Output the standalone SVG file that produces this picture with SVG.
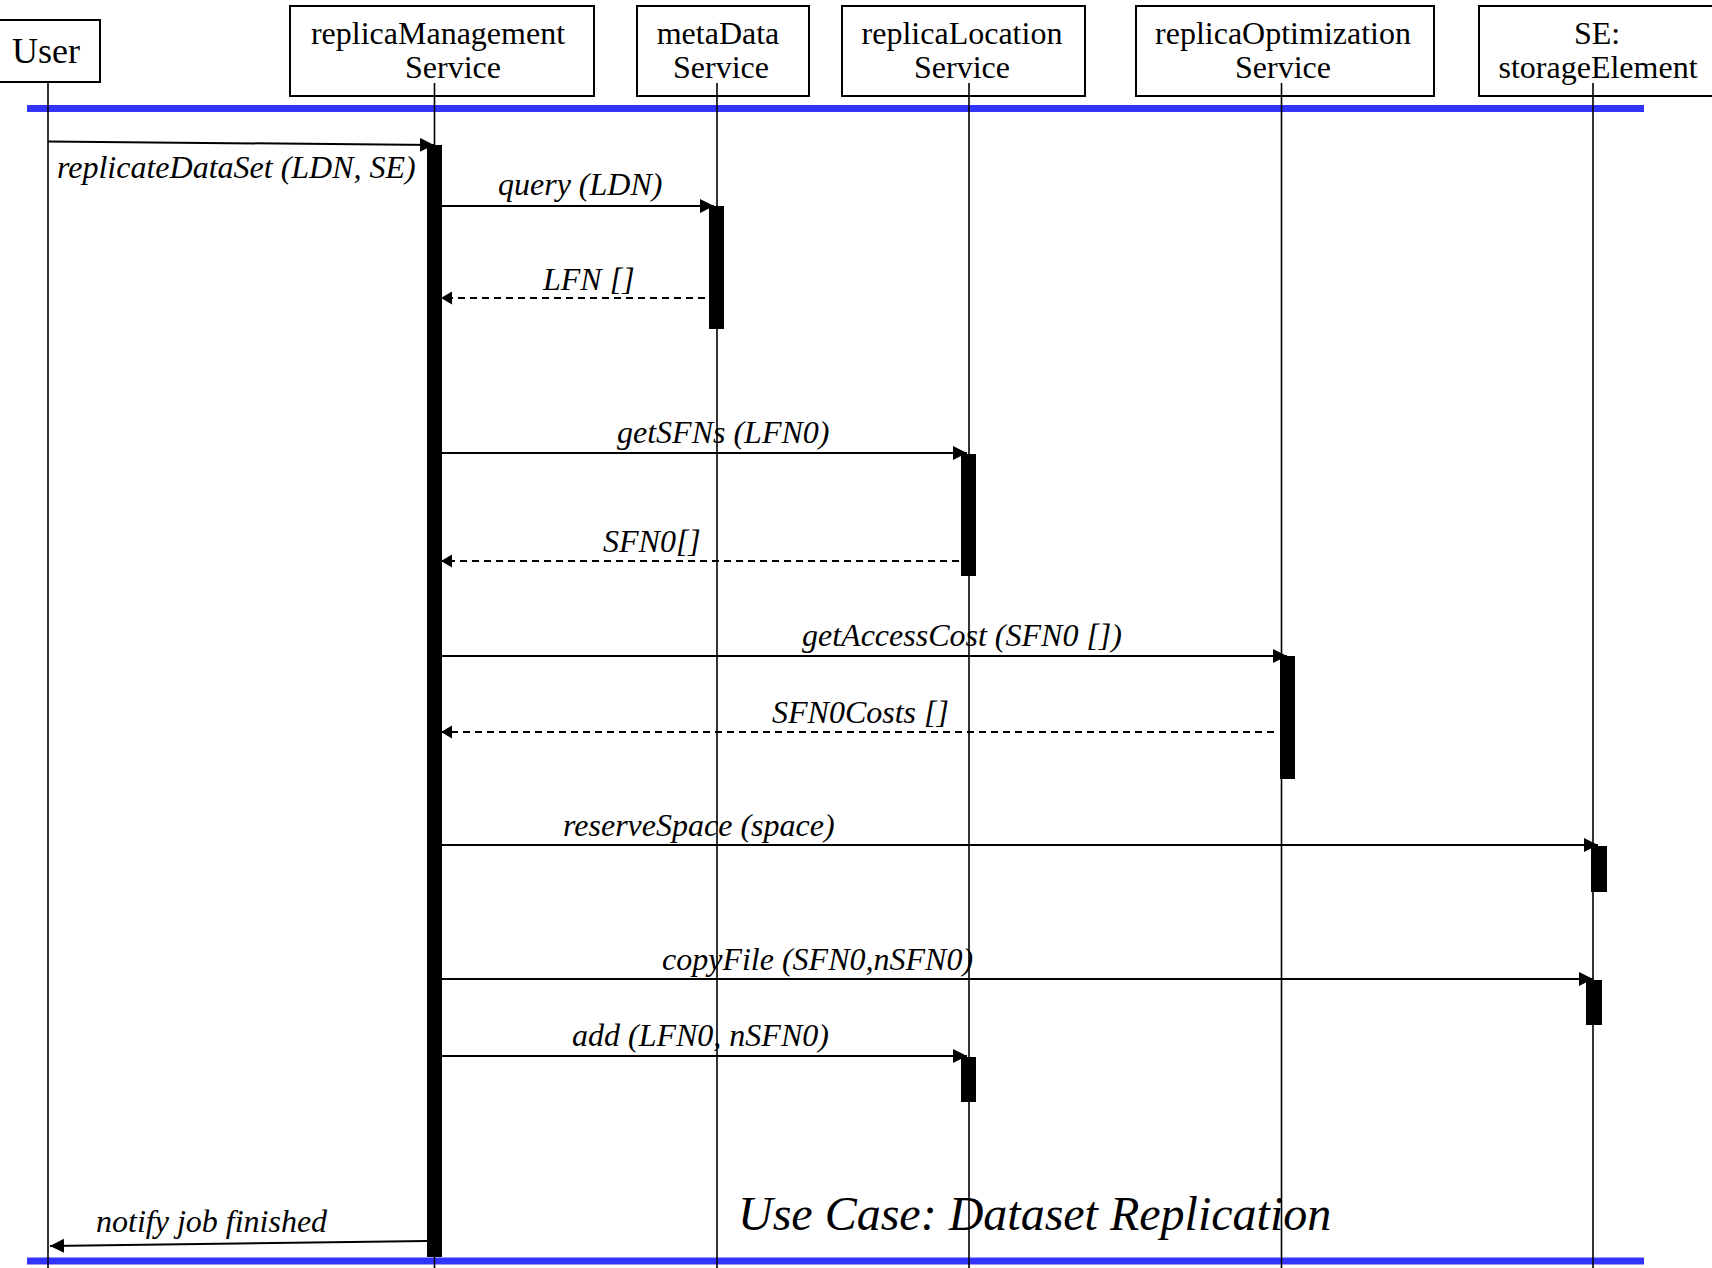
<svg xmlns="http://www.w3.org/2000/svg" width="1712" height="1268" viewBox="0 0 1712 1268">
  <style>
    .box { fill: #ffffff; stroke: #000000; stroke-width: 2; }
    .head { font-family: "Liberation Serif", "Times New Roman", serif; font-size: 32px; fill: #000000; text-anchor: middle; }
    .life { stroke: #000000; stroke-width: 1.6; fill: none; }
    .act { fill: #000000; }
    .sep { stroke: #3434ff; stroke-width: 7; }
    .call { stroke: #000000; stroke-width: 2; fill: none; marker-end: url(#tip); }
    .ret { stroke: #000000; stroke-width: 2; fill: none; stroke-dasharray: 7 5; marker-end: url(#tipSmall); }
    .lbl { font-family: "Liberation Serif", "Times New Roman", serif; font-style: italic; font-size: 32px; fill: #000000; }
    .title { font-family: "Liberation Serif", "Times New Roman", serif; font-style: italic; font-size: 48px; fill: #000000; }
  </style>
  <defs>
    <marker id="tip" markerUnits="userSpaceOnUse" markerWidth="16" markerHeight="16" refX="14" refY="7" orient="auto">
      <path d="M0,0 L14,7 L0,14 Z" fill="#000000"/>
    </marker>
    <marker id="tipSmall" markerUnits="userSpaceOnUse" markerWidth="14" markerHeight="14" refX="11" refY="6.5" orient="auto">
      <path d="M0,0 L11,6.5 L0,13 Z" fill="#000000"/>
    </marker>
  </defs>

  <rect width="1712" height="1268" fill="#ffffff"/>

  <!-- frame separators -->
  <line class="sep" x1="27" y1="108.5" x2="1644" y2="108.5"/>
  <line class="sep" x1="27" y1="1261" x2="1644" y2="1261"/>

  <!-- participants -->
  <g id="user">
    <rect class="box" x="-2" y="20" width="102" height="62"/>
    <text class="head" x="46" y="63" style="font-size:36px">User</text>
    <line class="life" x1="48" y1="82" x2="48" y2="1268"/>
  </g>
  <g id="replicaManagementService">
    <rect class="box" x="290" y="6" width="304" height="90"/>
    <text class="head" x="438" y="44">replicaManagement</text>
    <text class="head" x="453" y="78">Service</text>
    <line class="life" x1="434.5" y1="83" x2="434.5" y2="1268"/>
    <rect class="act" x="427" y="145" width="15" height="1112"/>
  </g>
  <g id="metaDataService">
    <rect class="box" x="637" y="6" width="172" height="90"/>
    <text class="head" x="718" y="44">metaData</text>
    <text class="head" x="721" y="78">Service</text>
    <line class="life" x1="717" y1="83" x2="717" y2="1268"/>
    <rect class="act" x="709" y="206" width="15" height="123"/>
  </g>
  <g id="replicaLocationService">
    <rect class="box" x="842" y="6" width="243" height="90"/>
    <text class="head" x="962" y="44">replicaLocation</text>
    <text class="head" x="962" y="78">Service</text>
    <line class="life" x1="969" y1="83" x2="969" y2="1268"/>
    <rect class="act" x="961" y="454" width="15" height="122"/>
    <rect class="act" x="961" y="1057" width="15" height="45"/>
  </g>
  <g id="replicaOptimizationService">
    <rect class="box" x="1136" y="6" width="298" height="90"/>
    <text class="head" x="1283" y="44">replicaOptimization</text>
    <text class="head" x="1283" y="78">Service</text>
    <line class="life" x1="1281.5" y1="83" x2="1281.5" y2="1268"/>
    <rect class="act" x="1280" y="656" width="15" height="123"/>
  </g>
  <g id="storageElement">
    <rect class="box" x="1479" y="6" width="240" height="90"/>
    <text class="head" x="1597" y="44">SE:</text>
    <text class="head" x="1598" y="78">storageElement</text>
    <line class="life" x1="1593" y1="83" x2="1593" y2="1268"/>
    <rect class="act" x="1591" y="846" width="16" height="46"/>
    <rect class="act" x="1586" y="980" width="16" height="45"/>
  </g>

  <!-- messages -->
  <g id="messages">
    <line class="call" x1="48" y1="141.5" x2="434" y2="145"/>
    <text class="lbl" x="57" y="178">replicateDataSet (LDN, SE)</text>

    <line class="call" x1="442" y1="206" x2="714" y2="206"/>
    <text class="lbl" x="498" y="195">query (LDN)</text>

    <line class="ret" x1="705" y1="298" x2="441" y2="298"/>
    <text class="lbl" x="543" y="290">LFN []</text>

    <line class="call" x1="442" y1="453" x2="967" y2="453"/>
    <text class="lbl" x="617" y="443">getSFNs (LFN0)</text>

    <line class="ret" x1="959" y1="561" x2="441" y2="561"/>
    <text class="lbl" x="603" y="552">SFN0[]</text>

    <line class="call" x1="442" y1="656" x2="1287" y2="656"/>
    <text class="lbl" x="802" y="646">getAccessCost (SFN0 [])</text>

    <line class="ret" x1="1274" y1="732" x2="441" y2="732"/>
    <text class="lbl" x="772" y="723">SFN0Costs []</text>

    <line class="call" x1="442" y1="845" x2="1598" y2="845"/>
    <text class="lbl" x="563" y="836">reserveSpace (space)</text>

    <line class="call" x1="442" y1="979" x2="1593" y2="979"/>
    <text class="lbl" x="662" y="970">copyFile (SFN0,nSFN0)</text>

    <line class="call" x1="442" y1="1056" x2="967" y2="1056"/>
    <text class="lbl" x="572" y="1046">add (LFN0, nSFN0)</text>

    <line class="call" x1="427" y1="1241" x2="50" y2="1246"/>
    <text class="lbl" x="96" y="1232">notify job finished</text>
  </g>

  <text class="title" x="738" y="1230">Use Case: Dataset Replication</text>
</svg>
